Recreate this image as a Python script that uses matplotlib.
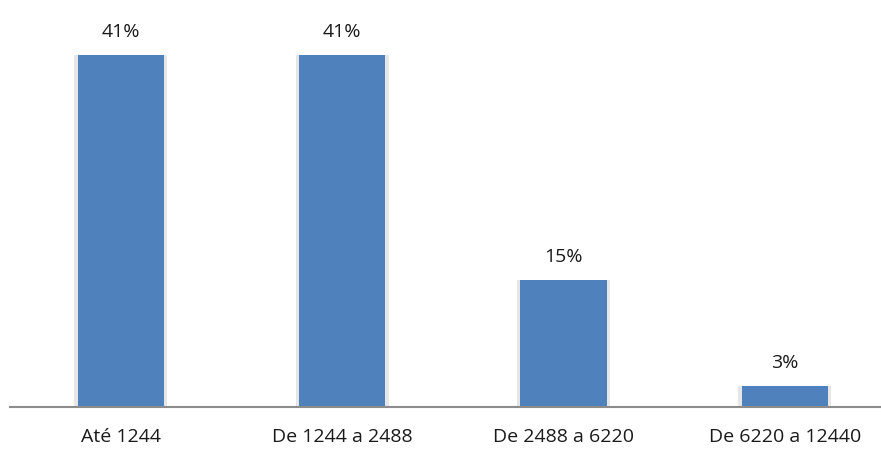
import matplotlib.pyplot as plt
import numpy as np

# Faixas de renda e percentuais
categories = ['Até 1244', 'De 1244 a 2488', 'De 2488 a 6220', 'De 6220 a 12440']
values = [41.0, 41.0, 14.8, 2.5]
value_labels = ['41%', '41%', '15%', '3%']

fig = plt.figure(figsize=(8.81, 4.57), dpi=100)
ax = fig.add_axes([10 / 881, 50 / 457, 871 / 881, 397 / 457])

x = np.arange(len(categories))

# soft shadow behind the bars
ax.bar(x, values, width=0.42, color='#e6e6e6', zorder=1)
ax.bar(x, values, width=0.39, color='#4f81bd', zorder=2)

for xi, v, lab in zip(x, values, value_labels):
    ax.annotate(lab, (xi, v), xytext=(0, 10), textcoords='offset points',
                ha='center', va='bottom', fontsize=14, family='Open Sans', color='#1a1a1a')

ax.set_xlim(-0.5, 3.435)
ax.set_ylim(0, 46.2)
ax.set_xticks(x)
ax.set_xticklabels(categories, fontsize=14, family='Open Sans', color='#1a1a1a')
ax.tick_params(axis='x', length=0, pad=15)
ax.set_yticks([])

for side in ['top', 'right', 'left']:
    ax.spines[side].set_visible(False)
ax.spines['bottom'].set_color('#8c8c8c')
ax.spines['bottom'].set_linewidth(1.5)

plt.savefig('out.png', dpi=100)
